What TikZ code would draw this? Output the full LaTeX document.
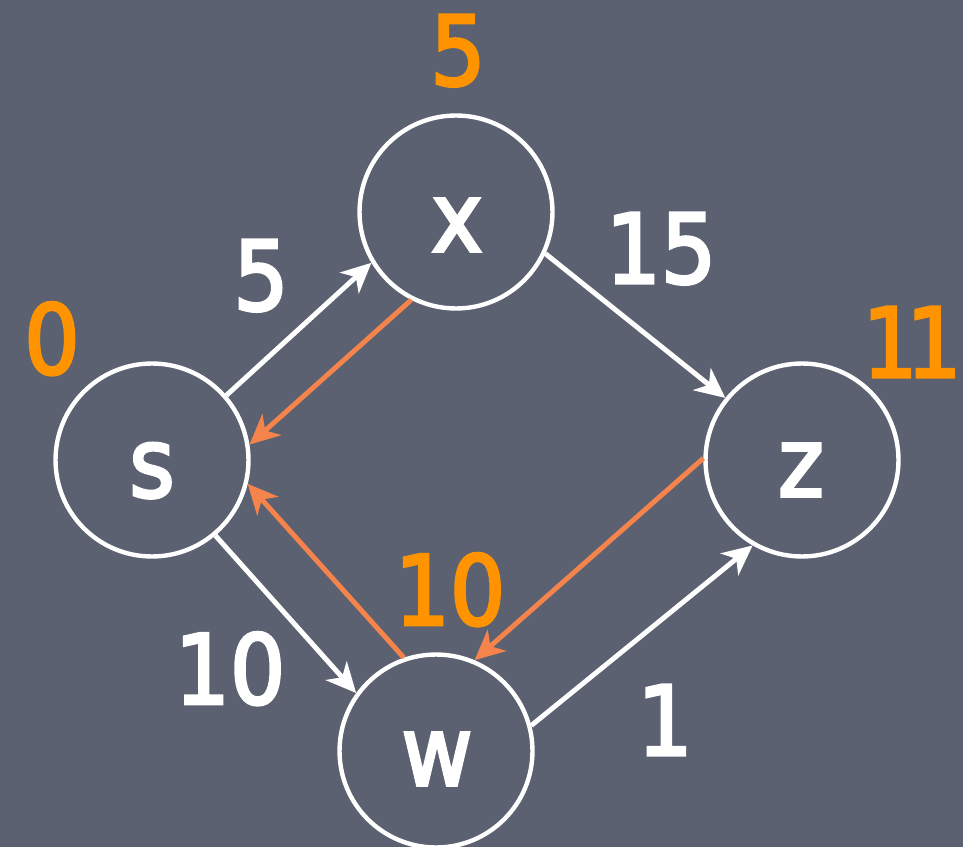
\documentclass[tikz,border=0pt]{standalone}
\usepackage{fontspec}
\newfontfamily\chalk{DejaVu Sans}[FakeBold=3,FakeStretch=0.9]
\usetikzlibrary{arrows.meta}
\definecolor{board}{HTML}{5B6170}
\definecolor{distorange}{HTML}{FF9400}
\definecolor{treeorange}{HTML}{F5844C}
\begin{document}
\begin{tikzpicture}[x=0.02cm,y=-0.02cm,
  vert/.style={circle,draw=white,line width=2.5pt,inner sep=0pt,minimum size=3.86cm},
  chalktext/.style={inner sep=0pt,text depth=0pt,font=\chalk\fontsize{55}{60}\selectfont},
  vlabel/.style={chalktext,text=white},
  weight/.style={chalktext,text=white},
  dist/.style={chalktext,text=distorange},
  tip/.style={-{Stealth[length=17pt,width=16pt,inset=5pt]}},
  wedge/.style={draw=white,line width=2.8pt,tip},
  tedge/.style={draw=treeorange,line width=2.8pt,tip}]
  % chalkboard
  \fill[board] (0,0) rectangle (963,847);
  \useasboundingbox (0,0) rectangle (963,847);

  % vertices
  \node[vert] (s) at (152,460) {};
  \node[vert] (x) at (456,212) {};
  \node[vert] (z) at (802,460) {};
  \node[vert] (w) at (436,751) {};

  % vertex names
  \node[vlabel] (ns) at (152,470) {s};
  \node[vlabel] (nx) at (457,225) {x};
  \node[vlabel] (nz) at (801,470) {z};
  \node[vlabel] (nw) at (437,759) {w};

  % graph edges
  \draw[wedge] (s.41) -- (x.211);
  \draw[wedge] (x.335) -- (z.141);
  \draw[wedge] (s.310) -- (w.144);
  \draw[wedge] (w.15) -- (z.240);

  % shortest-path tree edges
  \draw[tedge] (x.243) -- (s.9);
  \draw[tedge] (z.179) -- (w.67);
  \draw[tedge] (w.109) -- (s.346);

  % edge weights
  \node[weight] (w1) at (261,275) {5};
  \node[weight] (w2) at (661,248) {15};
  \node[weight] (w3) at (230,668) {10};
  \node[weight] (w4) at (665,720) {1};

  % distances
  \node[dist] (ds) at (52,338) {0};
  \node[dist] (dx) at (458,50) {5};
  \node[dist] (dz) at (912,342) {1\kern-0.12em1};
  \node[dist] (dw) at (450,589) {10};
\end{tikzpicture}
\end{document}
